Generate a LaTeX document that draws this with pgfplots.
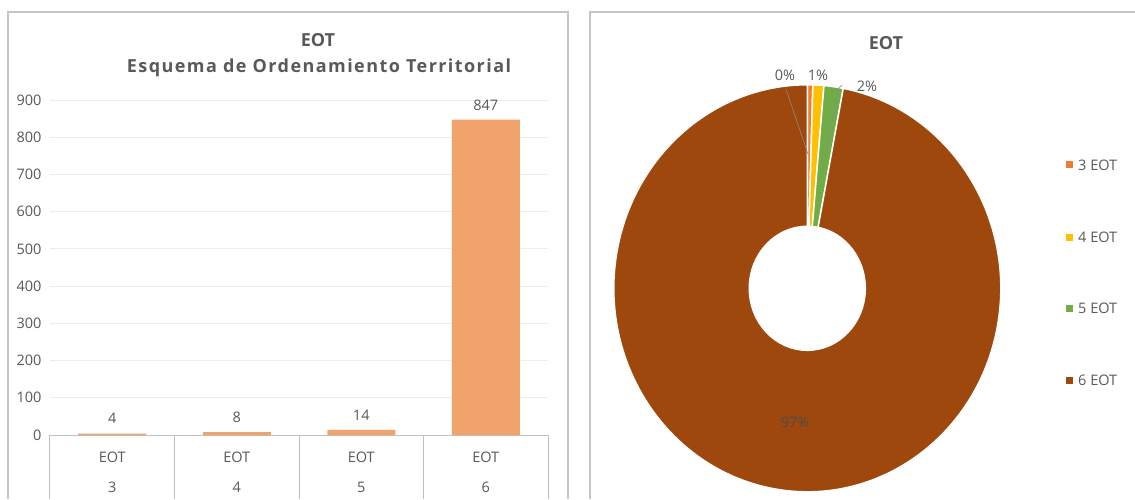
\documentclass[border=0pt]{standalone}
\usepackage{fontspec}
\setmainfont{Open Sans}
\usepackage{pgfplots}
\pgfplotsset{compat=1.18}

\definecolor{txt}{HTML}{595959}
\definecolor{frame}{HTML}{C4C4C4}
\definecolor{gridc}{HTML}{ECECEC}
\definecolor{axc}{HTML}{BFBFBF}
\definecolor{barc}{HTML}{F0A46C}
\definecolor{cA}{HTML}{ED7D31}
\definecolor{cB}{HTML}{FFC000}
\definecolor{cC}{HTML}{70AD47}
\definecolor{cD}{HTML}{9E480E}

% donut values
\def\vA{4}\def\vB{8}\def\vC{14}\def\vD{847}
\pgfmathsetmacro\tot{\vA+\vB+\vC+\vD}
\pgfmathsetmacro\aA{90}
\pgfmathsetmacro\aB{\aA-360*(\vA/\tot)}
\pgfmathsetmacro\aC{\aB-360*(\vB/\tot)}
\pgfmathsetmacro\aD{\aC-360*(\vC/\tot)}
\pgfmathsetmacro\aE{\aD-360*(\vD/\tot)}

% ring sector in the donut axis (outer radius = 1 axis unit, hole = 30%)
\newcommand\sector[3]{%
  \fill[#3, draw=white, line width=1.5pt]
    (axis cs:{cos(#1)},{sin(#1)})
    arc[start angle=#1, end angle=#2, x radius=193.5pt, y radius=203.5pt]
    -- (axis cs:{0.2997*cos(#2)},{0.3047*sin(#2)})
    arc[start angle=#2, end angle=#1, x radius=58pt, y radius=62pt] -- cycle;}

\begin{document}
\begin{tikzpicture}[font=\fontsize{14.5}{17}\selectfont]
\fill[white] (0pt,0pt) rectangle (1135pt,499pt);

% panel frames
\draw[frame, line width=2pt] (8pt,0pt) |- (568pt,487pt) -- (568pt,0pt);
\draw[frame, line width=2pt] (590pt,0pt) |- (1135pt,487pt);

% left: bar chart
\node[txt, font=\fontsize{18}{20}\selectfont\bfseries] at (318pt,459pt) {EOT};
\node[txt, font=\fontsize{18}{20}\selectfont\bfseries\addfontfeature{LetterSpace=8}] at (319pt,431pt) {Esquema de Ordenamiento Territorial};

\begin{axis}[
  at={(50pt,64pt)}, anchor=south west,
  scale only axis, width=498pt, height=335pt,
  xmin=-0.5, xmax=3.5, ymin=0, ymax=900,
  ytick={0,100,...,900},
  xtick={0,1,2,3},
  xticklabels={{EOT\\3},{EOT\\4},{EOT\\5},{EOT\\6}},
  ymajorgrids, grid style={gridc, line width=0.8pt},
  axis x line*=bottom, axis y line*=left,
  x axis line style={axc, line width=1pt},
  y axis line style={draw=none},
  major tick length=0pt, tick style={draw=none},
  /pgf/number format/assume math mode=true,
  ticklabel style={txt, font=\fontsize{14.5}{17}\selectfont},
  xticklabel style={align=center, anchor=north, inner sep=0pt,
    yshift=-16.8pt, font=\fontsize{14.5}{30}\selectfont},
  yticklabel style={xshift=-5pt},
  clip=false,
]
\addplot[ybar, bar width=68pt, fill=barc, draw=none,
  nodes near coords, nodes near coords style={txt, yshift=6pt}]
  coordinates {(0,4) (1,8) (2,14) (3,847)};
\foreach \b in {-0.5,0.5,1.5,2.5,3.5}{
  \edef\temp{\noexpand\draw[axc, line width=1pt] (axis cs:\b,0) -- ++(0pt,-64pt);}\temp
}
\end{axis}

% right: donut chart
\node[txt, font=\fontsize{18}{20}\selectfont\bfseries] at (886pt,456pt) {EOT};

\begin{axis}[
  at={(613.8pt,7.2pt)}, anchor=south west,
  scale only axis, width=387pt, height=407pt,
  xmin=-1, xmax=1, ymin=-1, ymax=1,
  hide axis, clip=false,
]
\addplot[draw=none] coordinates {(-1,-1) (1,1)};
\sector{\aA}{\aB}{cA}
\sector{\aB}{\aC}{cB}
\sector{\aC}{\aD}{cC}
\sector{\aD}{\aE}{cD}
\end{axis}

% percentage labels and leader lines
\draw[txt!70, line width=0.6pt] (786pt,410pt) -- (808.3pt,344pt);
\draw[txt!70, line width=0.6pt] (842pt,414pt) -- (838.7pt,411pt) -- (825pt,342.3pt);
\node[txt] at (785pt,424pt) {0\%};
\node[txt] at (818pt,424pt) {1\%};
\node[txt] at (867pt,413pt) {2\%};
\node[text=black!70] at (795pt,77pt) {97\%};

% legend
\foreach \c/\t/\y in {cA/3 EOT/334, cB/4 EOT/262, cC/5 EOT/191, cD/6 EOT/119}{
  \fill[\c] (1066pt,\y pt-3.5pt) rectangle (1073pt,\y pt+3.5pt);
  \node[txt, anchor=west, inner sep=0pt] at (1078pt,\y pt) {\t};
}
\pgfresetboundingbox
\useasboundingbox (0pt,0pt) rectangle (1135pt,499pt);
\end{tikzpicture}
\end{document}
